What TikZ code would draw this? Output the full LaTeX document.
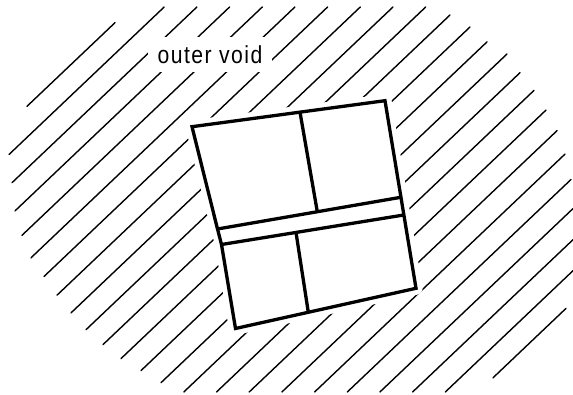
\documentclass[tikz,border=0pt]{standalone}
\usepackage{fontspec}
\setmainfont{Liberation Sans}
\newfontfamily\voidfont{Liberation Sans}[FakeStretch=0.86,LetterSpace=6]
\usepackage{tikz}

\begin{document}
\begin{tikzpicture}[
    x=1pt, y=-1pt,
    hatch/.style={
        draw=black,
        line width=1.4pt,
        line cap=round
    },
    halo/.style={
        draw=white,
        fill=white,
        line width=13pt,
        line join=round
    },
    wall/.style={
        draw=black,
        line width=3.3pt,
        line join=miter
    },
    voidlabel/.style={
        rectangle,
        fill=white,
        inner xsep=10pt,
        inner ysep=8.5pt,
        font={\voidfont\fontsize{24.6}{28}\selectfont}
    }
]

\useasboundingbox (0,0) rectangle (573,395);
\clip (0,0) rectangle (573,395);

\foreach \xa/\ya/\xb/\yb in {
    27/106.3/115/22.7, 9/154.5/164.2/7, 12/182.7/196.9/7, 15/210.9/229.6/7,
    22/235.3/262.3/7, 31/257.8/294.9/7, 44/276.5/327.6/7, 57/295.2/360.3/7,
    71/312.9/393/7, 86/329.7/425.7/7, 103/344.6/450/15, 121/358.6/470/27,
    141/370.6/487/41.9, 161/382.7/507/54, 183.8/392/520/72.7, 216.5/392/534/90.4,
    249.2/392/546/110.1, 281.9/392/557/130.7, 314.6/392/565/154.1, 347.3/392/571/179.5,
    379.9/392/573/208.6, 412.6/392/573/239.7, 445.3/392/573/270.7, 493/377.8/566/308.4}{
    \draw[hatch] (\xa,\ya) -- (\xb,\yb);
}

\node[voidlabel, anchor=base] (void) at (210,63.3) {outer void};

\coordinate (tl) at (192,126.7);
\coordinate (tr) at (385,100.7);
\coordinate (br) at (416,288.3);
\coordinate (bl) at (235.5,328.5);
\coordinate (ul) at (217.5,229);
\coordinate (ml) at (221.5,244.5);
\coordinate (ur) at (400.8,197.3);
\coordinate (mr) at (403.8,215);
\coordinate (tdt) at (300,112.2);
\coordinate (tdb) at (317.3,211.7);
\coordinate (bdt) at (296,232.4);
\coordinate (bdb) at (308.3,312.3);

\draw[halo] (tl) -- (tr) -- (br) -- (bl) -- (ml) -- (ul) -- cycle;
\draw[wall] (tl) -- (tr) -- (br) -- (bl) -- (ml) -- (ul) -- cycle;
\draw[wall] (ul) -- (ur);
\draw[wall] (ml) -- (mr);
\draw[wall] (tdt) -- (tdb);
\draw[wall] (bdt) -- (bdb);

\end{tikzpicture}
\end{document}
